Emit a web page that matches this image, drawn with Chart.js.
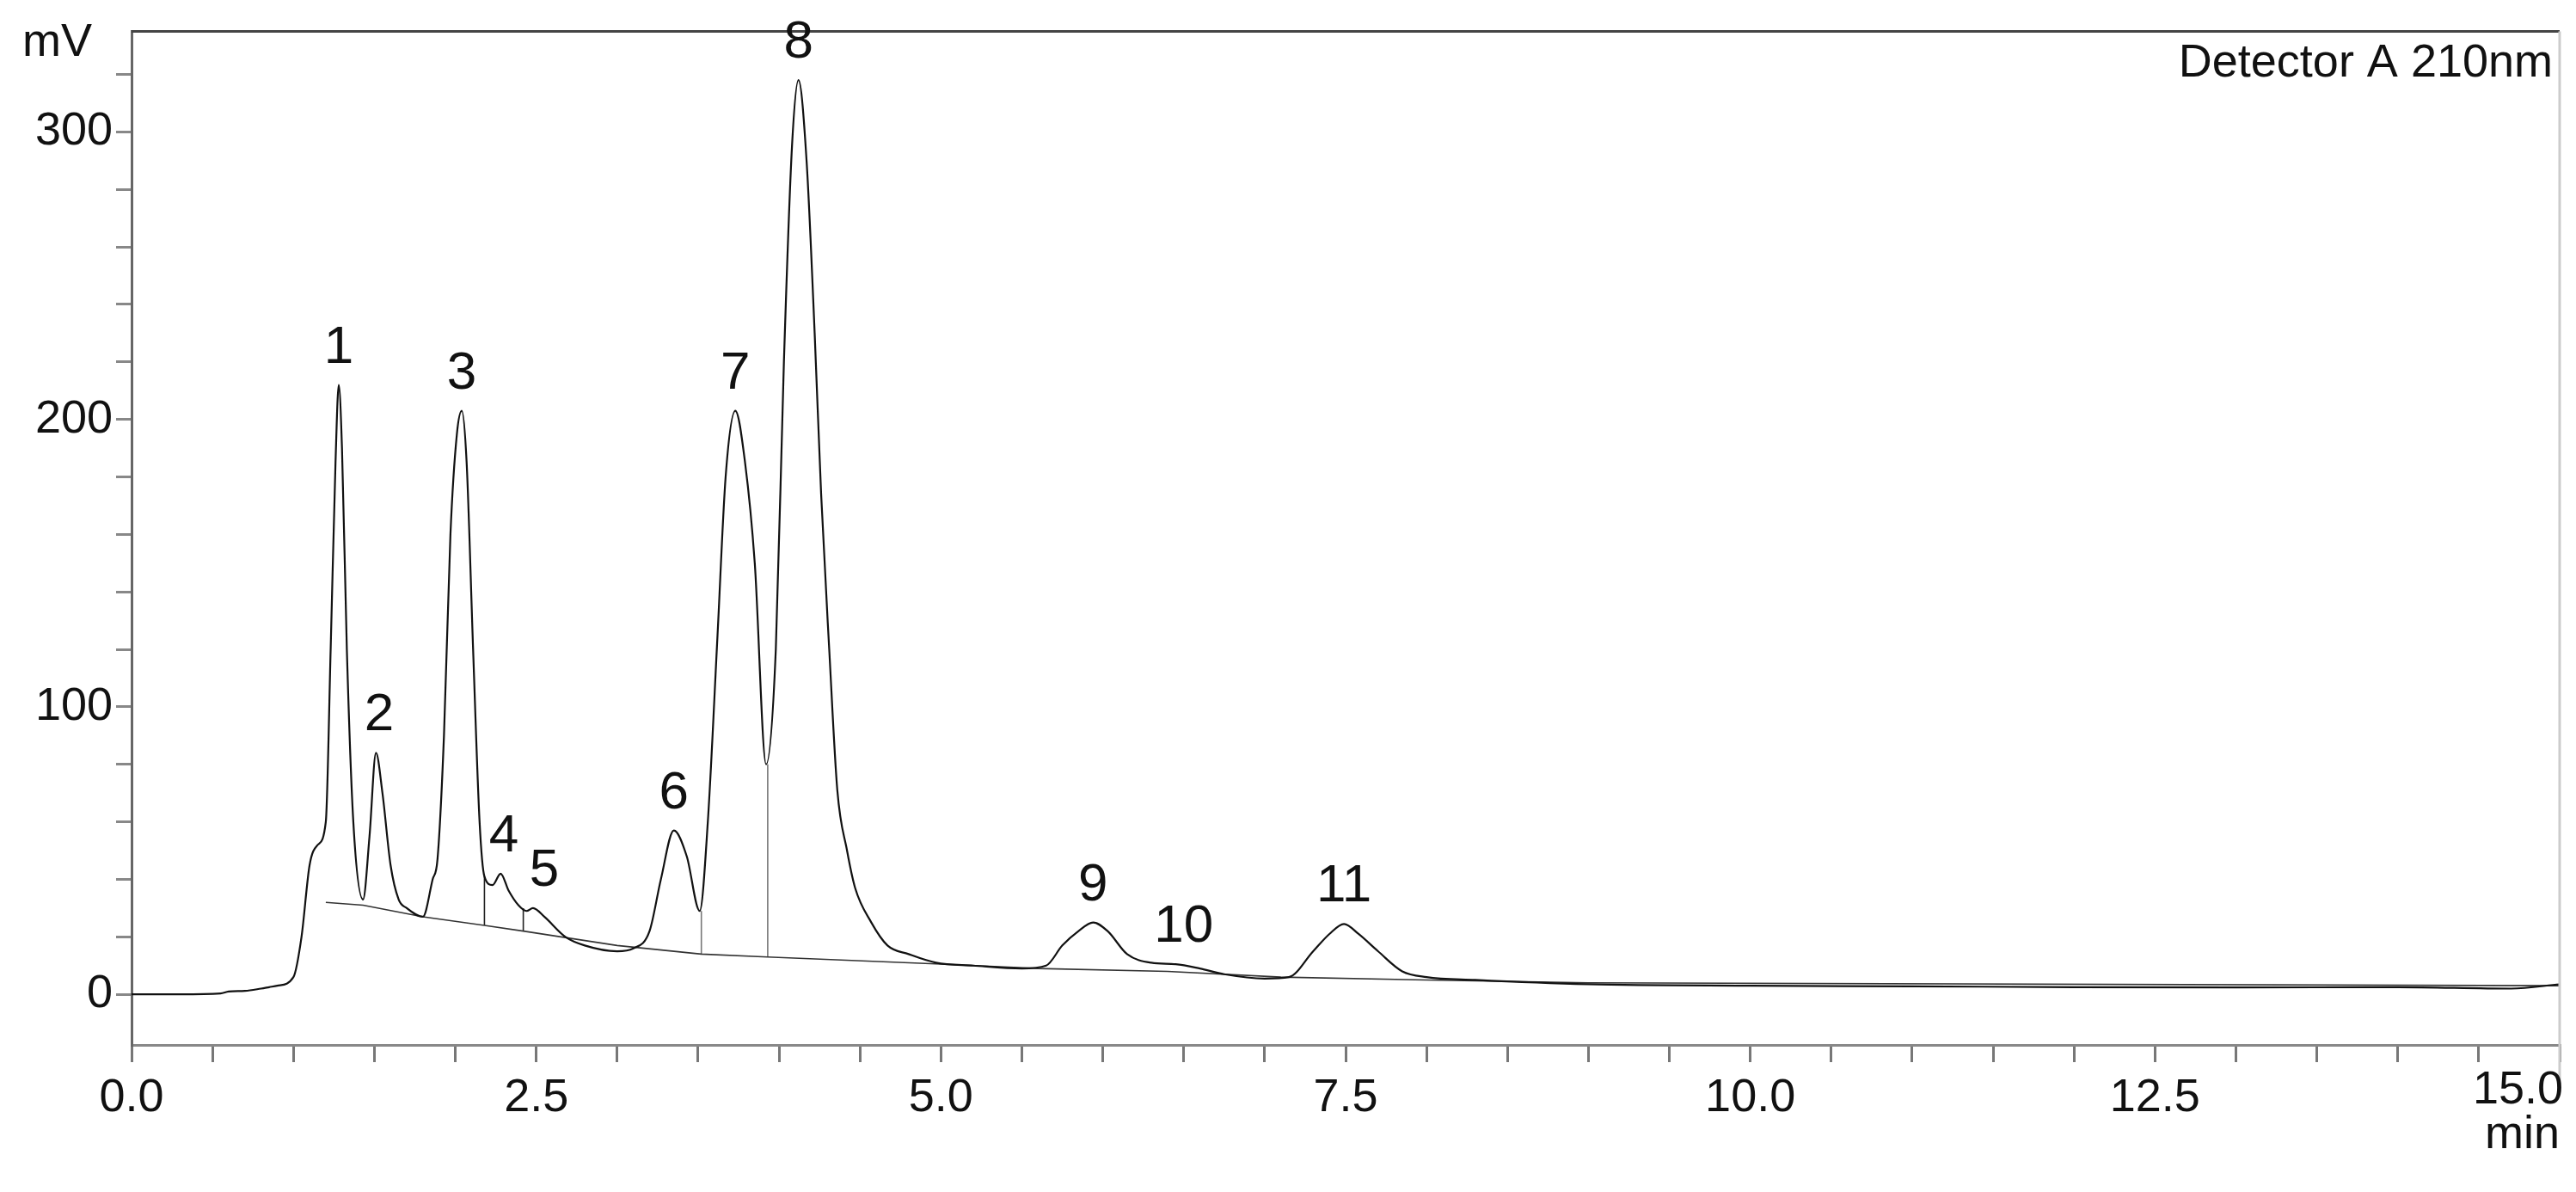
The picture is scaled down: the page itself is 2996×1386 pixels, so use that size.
<!DOCTYPE html>
<html><head><meta charset="utf-8">
<script src="https://cdn.jsdelivr.net/npm/chart.js@4"></script>
<style>html,body{margin:0;padding:0;background:#fff}#w{width:2996px;height:1386px}</style>
</head><body><div id="w"><canvas id="c" width="2996" height="1386"></canvas></div>
<script>
// retention time (min) and signal (mV)
const times = [0,0.3,0.55,0.6,0.7,0.8,0.85,0.9,1.0,1.05,1.1,1.15,1.2,1.23,1.26,1.28,1.3,1.33,1.37,1.43,1.47,1.51,1.55,1.6,1.65,1.7,1.8,1.86,1.89,1.93,1.97,2.01,2.04,2.07,2.11,2.15,2.18,2.23,2.28,2.33,2.39,2.44,2.48,2.55,2.68,2.8,3.0,3.1,3.2,3.27,3.35,3.43,3.51,3.56,3.62,3.67,3.73,3.79,3.85,3.92,3.98,4.03,4.08,4.12,4.17,4.22,4.26,4.31,4.36,4.42,4.47,4.57,4.67,4.8,4.97,5.2,5.5,5.65,5.75,5.85,5.94,6.03,6.15,6.3,6.45,6.6,6.75,7.0,7.15,7.3,7.4,7.49,7.58,7.7,7.85,8.0,8.3,9.0,10.0,11.0,12.0,13.0,14.0,14.7,15.0];
const signal = [0,0,0.3,1,1.2,2,2.5,3,6,20,45,52,60,120,185,212,190,120,60,33,55,84,70,45,33,30,27,40,47,90,160,195,203,185,120,60,41,38,42,36,31,29,30,27,20,17,15,16,22,40,57,48,29,60,125,180,203,185,150,80,120,220,295,318,290,230,174,120,71,50,37,25,17,14,11,10,9,10,17,22,25,22,14,11,10.5,9,7,5.5,6,15,21,24.5,21,15,8,6,5,3.5,3,2.8,2.5,2.4,2.5,2,3.5];
// integration baseline drawn under the peaks
const baseTimes = [1.2,1.43,1.8,2.18,2.42,3.0,3.52,3.93,5.0,5.6,6.4,7.1,8.0,9.0,15.0];
const baseSignal = [32,31,27,24,22,17,14,13,10.5,9,8,6,5,4,3];
// peak numbers and their label positions
const peakNames = ['1','2','3','4','5','6','7','8','9','10','11'];
const peakTimes = [1.28,1.53,2.04,2.30,2.55,3.35,3.73,4.12,5.94,6.50,7.49];
const peakHeights = [212,84,203,42,30,57,203,318,25,10.5,24.5];
const dropTimes = [2.18,2.42,3.52,3.93];
const dropTops = [41,30,29,80];
const yTicks = [0,100,200,300];

const FONT = '"Liberation Sans", Arial, sans-serif';
const pts = times.map((t,i)=>({x:t,y:signal[i]}));
const base = baseTimes.map((t,i)=>({x:t,y:baseSignal[i]}));
const ds = [
 {data:pts,borderColor:'#111',borderWidth:2.2,pointRadius:0,tension:0.35,cubicInterpolationMode:'monotone'},
 {data:base,borderColor:'#333',borderWidth:1.6,pointRadius:0,tension:0}
];
dropTimes.forEach((t,i)=>{
  let bi=0; while(bi<baseTimes.length-1 && baseTimes[bi+1]<t) bi++;
  const f=(t-baseTimes[bi])/(baseTimes[bi+1]-baseTimes[bi]);
  const by=baseSignal[bi]+f*(baseSignal[bi+1]-baseSignal[bi]);
  ds.push({data:[{x:t,y:by},{x:t,y:dropTops[i]}],borderColor:i<2?'#222':'#777',borderWidth:1.6,pointRadius:0});
});

const deco = {id:'deco',afterDraw(ch){
  const c=ch.ctx,a=ch.chartArea,xs=ch.scales.x,ys=ch.scales.y;
  c.save();
  c.strokeStyle='#444';c.lineWidth=3;
  c.beginPath();c.moveTo(a.left,a.top);c.lineTo(a.right,a.top);c.stroke();
  c.strokeStyle='#ccc';c.lineWidth=3;
  c.beginPath();c.moveTo(a.right,a.top);c.lineTo(a.right,a.bottom+45);c.stroke();
  c.fillStyle='#111';c.font='62px '+FONT;
  c.textAlign='center';c.textBaseline='alphabetic';
  peakNames.forEach((n,i)=>{
    c.fillText(n,xs.getPixelForValue(peakTimes[i]),ys.getPixelForValue(peakHeights[i])-26);
  });
  c.font='54px '+FONT;
  c.textAlign='left';c.textBaseline='middle';
  c.fillText('mV',26,50);
  c.textAlign='right';
  c.fillText('Detector A 210nm',a.right-8,74);
  c.fillText('15.0',a.right+4,1268);
  c.fillText('min',a.right,1320);
  c.restore();
}};

new Chart(document.getElementById('c'),{
  type:'line',
  data:{datasets:ds},
  options:{
    responsive:false,animation:false,devicePixelRatio:1,
    layout:{padding:{top:32,right:19,left:0,bottom:0}},
    plugins:{legend:{display:false},tooltip:{enabled:false}},
    scales:{
      x:{type:'linear',min:0,max:15,
        afterFit(s){s.height=171;},
        border:{display:true,color:'#888',width:3},
        grid:{drawOnChartArea:false,color:'#777',lineWidth:3,tickLength:20},
        ticks:{stepSize:0.5,autoSkip:false,maxRotation:0,color:'#111',padding:10,
          font:{size:54,family:FONT},
          callback:v=>(v<15 && Math.abs(v/2.5-Math.round(v/2.5))<1e-6)?v.toFixed(1):''}},
      y:{type:'linear',min:-17.6,max:335,
        afterFit(s){s.width=153;},
        afterBuildTicks(s){const t=[];for(let v=0;v<=320;v+=20)t.push({value:v});s.ticks=t;},
        border:{display:true,color:'#666',width:3},
        grid:{drawOnChartArea:false,color:'#888',lineWidth:3,tickLength:18},
        ticks:{color:'#111',padding:4,font:{size:54,family:FONT},
          callback:v=>yTicks.includes(v)?String(v):''}}
    }
  },
  plugins:[deco]
});
</script></body></html>
